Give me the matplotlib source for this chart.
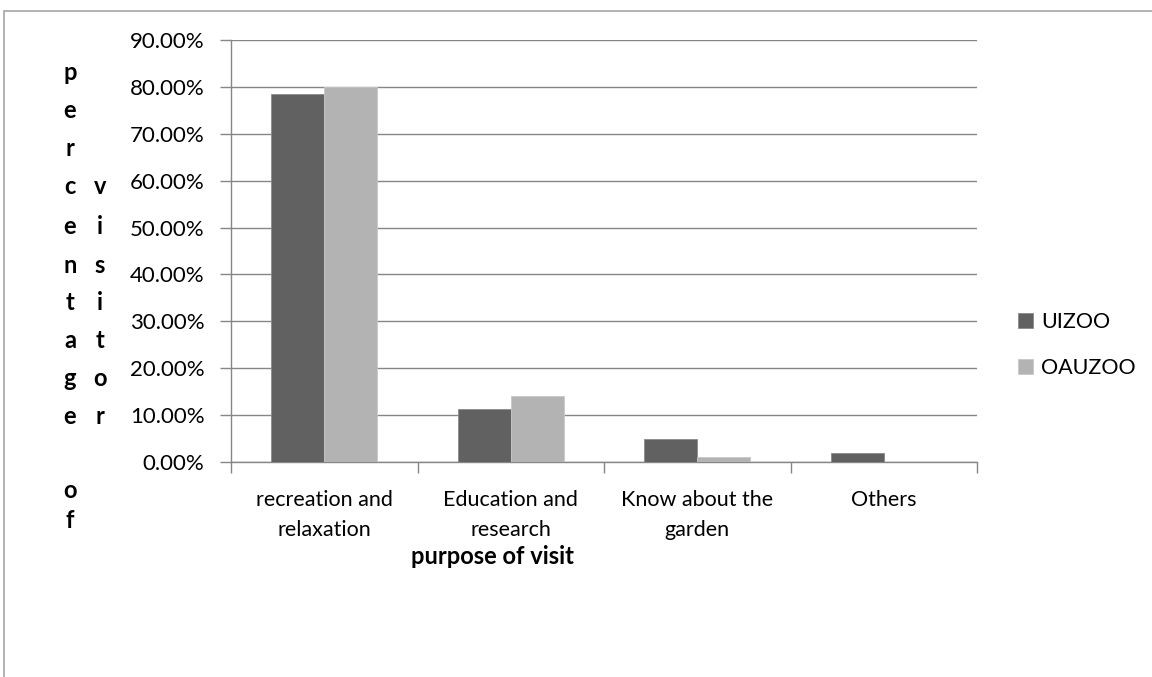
import matplotlib.pyplot as plt
import numpy as np
from matplotlib.patches import Rectangle

# dados
categorias = ["recreation and\nrelaxation", "Education and\nresearch",
              "Know about the\ngarden", "Others"]
uizoo = [78.5, 11.4, 5.0, 2.0]
oauzoo = [80.0, 14.0, 1.0, 0.0]
series = ["UIZOO", "OAUZOO"]
yticks = [0, 10, 20, 30, 40, 50, 60, 70, 80, 90]

plt.rcParams['font.family'] = ['Lato', 'DejaVu Sans']
fs = 15.5
fsb = 17
cinza = "#868686"

W, H = 1152, 677
fig = plt.figure(figsize=(W / 100, H / 100), dpi=100)
ax = fig.add_axes([231 / W, (H - 462) / H, (977 - 231) / W, (462 - 40) / H])

# borda do grafico
fig.add_artist(Rectangle((4 / W, -0.1), 1.2, (H - 11) / H + 0.1,
                         transform=fig.transFigure, fill=False,
                         edgecolor="#a6a6a6", linewidth=1.2))

x = np.arange(len(categorias))
larg = 0.285
ax.bar(x - larg / 2, uizoo, larg, color="#616161", edgecolor="#8a8a8a",
       linewidth=0.6, label=series[0], zorder=3)
ax.bar(x + larg / 2, oauzoo, larg, color="#b3b3b3", edgecolor="#c8c8c8",
       linewidth=0.6, label=series[1], zorder=3)

ax.set_xlim(-0.5, len(categorias) - 0.5)
ax.set_ylim(0, 90)
ax.set_yticks(yticks)
ax.set_yticklabels(["%.2f%%" % v for v in yticks], fontsize=fs + 0.5)
ax.yaxis.grid(True, color=cinza, linewidth=1.0, zorder=0)
ax.set_axisbelow(True)

# ticks nas divisoes, rotulos no centro
ax.set_xticks(np.arange(len(categorias) + 1) - 0.5)
ax.set_xticklabels([])
ax.set_xticks(x, minor=True)
ax.set_xticklabels(categorias, minor=True, fontsize=fs, linespacing=1.67)
ax.tick_params(axis='x', which='minor', length=0, pad=20)
ax.tick_params(axis='x', which='major', length=8, color=cinza, width=1)
ax.tick_params(axis='y', length=8, color=cinza, width=1, pad=11)

for s in ["top", "right"]:
    ax.spines[s].set_visible(False)
for s in ["left", "bottom"]:
    ax.spines[s].set_color(cinza)
    ax.spines[s].set_linewidth(1.0)

# titulo do eixo x
fig.text(492 / W, 1 - 557 / H, "purpose of visit", ha="center", va="center",
         fontsize=fsb, fontweight="bold")

# titulo do eixo y, letra por letra
linhas = [73, 111, 149, 186, 226, 265, 302, 340, 378, 417, 455, 490, 521]
col1 = list("percentage") + ["", "o", "f"]
col2 = ["", "", "", "v", "i", "s", "i", "t", "o", "r", "", "", ""]
for yy, a, b in zip(linhas, col1, col2):
    if a:
        fig.text(70 / W, 1 - yy / H, a, ha="center", va="center",
                 fontsize=fsb, fontweight="bold")
    if b:
        fig.text(100 / W, 1 - yy / H, b, ha="center", va="center",
                 fontsize=fsb, fontweight="bold")

fig.legend(loc="center left", bbox_to_anchor=(1014 / W, 1 - 345 / H),
           frameon=False, fontsize=fs, handlelength=0.7, handleheight=0.7,
           handletextpad=0.35, labelspacing=1.2, borderpad=0.2,
           borderaxespad=0)

fig.savefig("out.png", dpi=100)
